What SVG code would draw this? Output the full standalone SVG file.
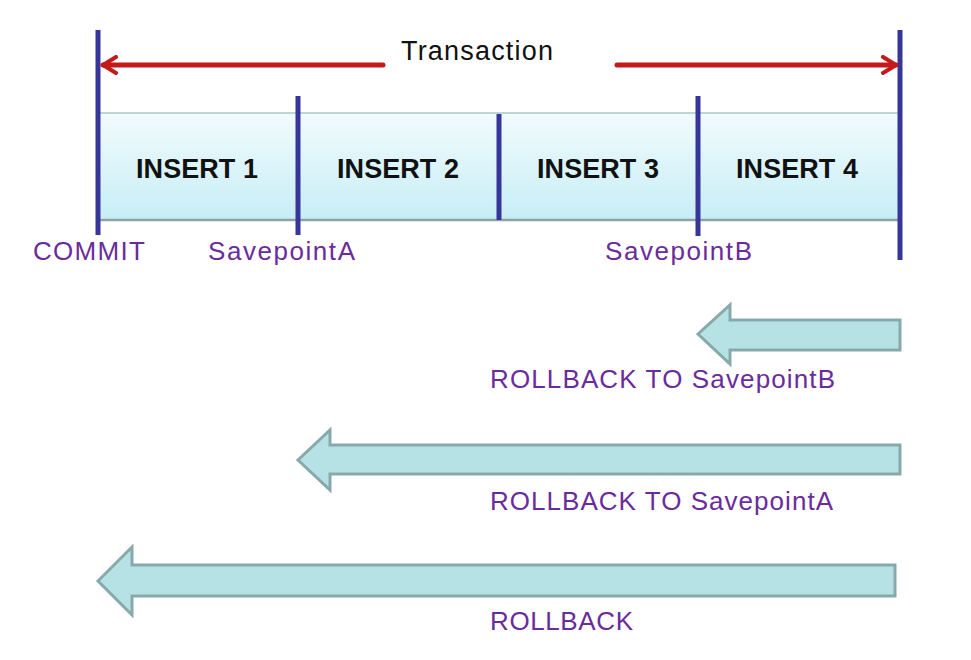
<svg xmlns="http://www.w3.org/2000/svg" width="971" height="660" viewBox="0 0 971 660">
<defs>
<linearGradient id="barg" x1="0" y1="0" x2="0" y2="1">
<stop offset="0" stop-color="#f2fbfd"/>
<stop offset="1" stop-color="#c6eef6"/>
</linearGradient>
<marker id="chev" viewBox="0 0 20 20" refX="17" refY="10" markerWidth="20" markerHeight="20" markerUnits="userSpaceOnUse" orient="auto-start-reverse">
<path d="M4 2 L17 10 L4 18" fill="none" stroke="#c41a1a" stroke-width="4" stroke-linecap="round" stroke-linejoin="round"/>
</marker>
<style>
.vl{stroke:#36369a;stroke-width:5;fill:none}
.red{stroke:#c41a1a;stroke-width:5;fill:none;stroke-linecap:round}
.ins{font-family:"Liberation Sans",Arial,sans-serif;font-size:27px;font-weight:bold;fill:#111;text-anchor:middle}
.tt{font-family:"Liberation Sans",Arial,sans-serif;font-size:27px;fill:#111;text-anchor:middle}
.pl{font-family:"Liberation Sans",Arial,sans-serif;font-size:26px;fill:#6a2c9c}
.blk{fill:#b6e2e5;stroke:#88a9ab;stroke-width:3;stroke-linejoin:miter}
</style>
</defs>
<rect width="971" height="660" fill="#ffffff"/>
<g id="bar">
<rect x="98" y="113" width="800" height="107" fill="url(#barg)"/>
<line x1="98" y1="113" x2="898" y2="113" stroke="#a9c7cc" stroke-width="1.5"/>
<line x1="98" y1="220" x2="898" y2="220" stroke="#8ea3a8" stroke-width="2.5"/>
</g>
<g id="insert1"><text class="ins" x="197" y="178" textLength="122">INSERT 1</text></g>
<g id="insert2"><text class="ins" x="398" y="178" textLength="122">INSERT 2</text></g>
<g id="insert3"><text class="ins" x="598" y="178" textLength="122">INSERT 3</text></g>
<g id="insert4"><text class="ins" x="797" y="178" textLength="122">INSERT 4</text></g>
<g id="markers">
<line class="vl" x1="98" y1="30" x2="98" y2="235"/>
<line class="vl" x1="298" y1="96" x2="298" y2="235"/>
<line class="vl" x1="499" y1="114" x2="499" y2="220"/>
<line class="vl" x1="698" y1="96" x2="698" y2="236"/>
<line class="vl" x1="900" y1="30" x2="900" y2="260"/>
</g>
<g id="transaction"><text class="tt" x="477" y="60" textLength="152">Transaction</text></g>
<g id="connectors">
<line class="red" x1="383" y1="65" x2="103" y2="65" marker-end="url(#chev)"/>
<line class="red" x1="617" y1="65" x2="896" y2="65" marker-end="url(#chev)"/>
</g>
<g id="commit"><text class="pl" x="33" y="260" textLength="112">COMMIT</text></g>
<g id="savepointA"><text class="pl" x="208" y="260" textLength="147">SavepointA</text></g>
<g id="savepointB"><text class="pl" x="605" y="260" textLength="147">SavepointB</text></g>
<g id="rollbackB">
<path class="blk" d="M698 334 L730 305 L730 320 L900 320 L900 350 L730 350 L730 364 Z"/>
<text class="pl" x="490" y="388" textLength="345">ROLLBACK TO SavepointB</text>
</g>
<g id="rollbackA">
<path class="blk" d="M298 460 L330 430 L330 445 L900 445 L900 474 L330 474 L330 490 Z"/>
<text class="pl" x="490" y="510" textLength="343">ROLLBACK TO SavepointA</text>
</g>
<g id="rollback">
<path class="blk" d="M98 581 L132 547 L132 565 L895 565 L895 596 L132 596 L132 615 Z"/>
<text class="pl" x="490" y="630" textLength="143">ROLLBACK</text>
</g>
</svg>
